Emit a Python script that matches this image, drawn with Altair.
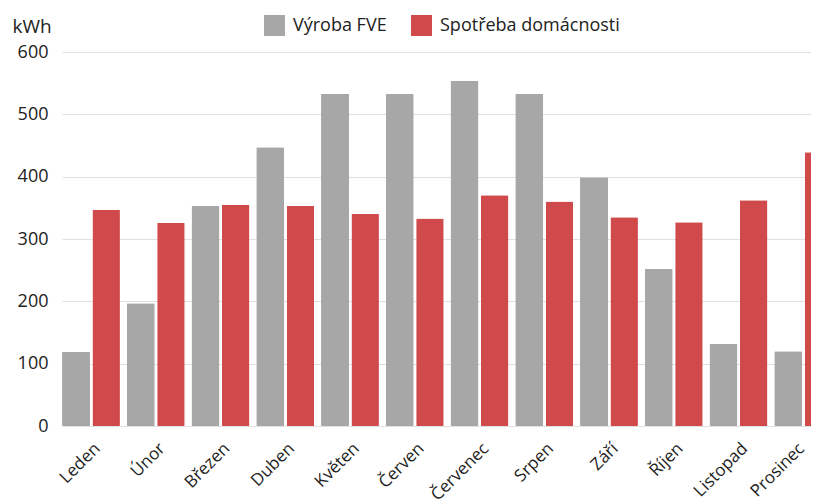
import altair as alt
import pandas as pd

months = ["Leden", "Únor", "Březen", "Duben", "Květen", "Červen",
          "Červenec", "Srpen", "Září", "Říjen", "Listopad", "Prosinec"]
series = ["Výroba FVE", "Spotřeba domácnosti"]
vyroba = [119, 197, 353, 447, 533, 533, 554, 533, 399, 252, 132, 120]
spotreba = [347, 326, 355, 353, 340, 333, 370, 360, 335, 327, 362, 439]
colors = ["#a7a7a7", "#d0494b"]

df_v = pd.DataFrame({"mesic": months, "rada": series[0], "kWh": vyroba})
df_s = pd.DataFrame({"mesic": months, "rada": series[1], "kWh": spotreba})

FONT = "Open Sans"
TXT = "#222222"

x_enc = alt.X("mesic:N", sort=months, title=None,
              scale=alt.Scale(range=[0, 770], paddingInner=0.108, paddingOuter=0),
              axis=alt.Axis(labelAngle=-45, labelFontSize=17, labelFont=FONT,
                            labelColor=TXT, ticks=False, domain=False,
                            labelPadding=14,
                            labelOffset={"condition": {"test": "datum.value === 'Prosinec'",
                                                       "value": -7},
                                         "value": 1}))
y_enc = alt.Y("kWh:Q", title="kWh",
              scale=alt.Scale(domain=[0, 600]),
              axis=alt.Axis(values=[0, 100, 200, 300, 400, 500, 600],
                            ticks=False, domain=False, labelPadding=14,
                            labelFontSize=18, labelFont=FONT, labelColor=TXT,
                            gridColor="#e0e0e0", gridWidth=1.2,
                            titleAngle=0, titleAlign="left", titleBaseline="alphabetic",
                            titleX=-50, titleY=-20, titleFontSize=19,
                            titleFont=FONT, titleFontWeight="normal",
                            titleColor=TXT))
c_enc = alt.Color("rada:N", sort=series,
                  scale=alt.Scale(domain=series, range=colors),
                  legend=alt.Legend(title=None, orient="none", direction="horizontal",
                                    legendX=202, legendY=-37,
                                    symbolType="square", symbolSize=441,
                                    symbolStrokeWidth=0, labelLimit=400,
                                    labelFontSize=18, labelFont=FONT,
                                    labelColor=TXT, labelOffset=8,
                                    columnPadding=24, padding=0))

bars_v = alt.Chart(df_v).mark_bar(width=28, xOffset=-14.85, cornerRadius=1).encode(
    x=x_enc, y=y_enc, color=c_enc)
bars_s = alt.Chart(df_s).mark_bar(width=27.5, xOffset=15.3, cornerRadius=1).encode(
    x=x_enc, y=y_enc, color=c_enc)

chart = alt.layer(bars_v, bars_s).properties(
    width=749, height=374,
    autosize=alt.AutoSizeParams(type="none"),
    padding={"left": 54, "top": 44, "right": 0, "bottom": 78},
).configure_view(stroke=None)

chart.save("out.html", embed_options={"renderer": "svg", "actions": False})
